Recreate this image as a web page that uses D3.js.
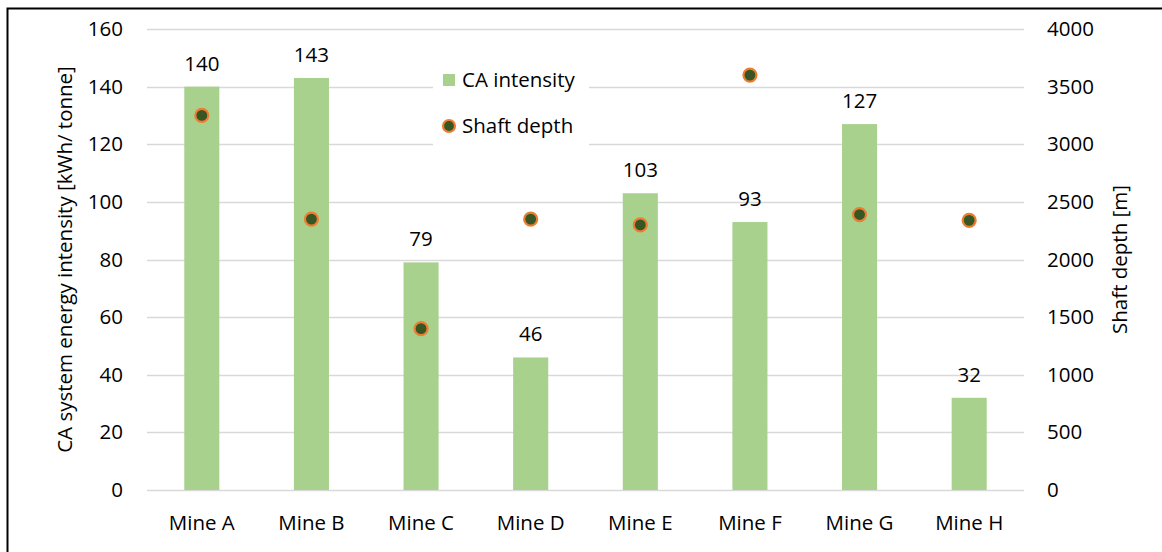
<!DOCTYPE html>
<html>
<head>
<meta charset="utf-8">
<script src="https://cdn.jsdelivr.net/npm/d3@7"></script>
<style>
  html, body { margin: 0; padding: 0; background: #fff; }
  svg { display: block; }
  text { font-family: "Open Sans", "Noto Sans", sans-serif; fill: #000; }
</style>
</head>
<body>
<svg id="chart" width="1162" height="552"></svg>
<script>
// Mines, compressed-air energy intensity and shaft depth
const mines = ["Mine A", "Mine B", "Mine C", "Mine D", "Mine E", "Mine F", "Mine G", "Mine H"];
const caIntensity = [140, 143, 79, 46, 103, 93, 127, 32];
const shaftDepth = [3250, 2350, 1400, 2350, 2300, 3600, 2390, 2340];
const leftTicks = [0, 20, 40, 60, 80, 100, 120, 140, 160];
const rightTicks = [0, 500, 1000, 1500, 2000, 2500, 3000, 3500, 4000];

const FS = 20.5;
const FONT = "Open Sans, sans-serif";

const svg = d3.select("#chart");
const W = 1162, H = 552;
const plot = { left: 147, right: 1024, top: 29, bottom: 490 };

// outer frame
svg.append("path")
  .attr("d", `M7.5,${H} V8.5 H${W}`)
  .attr("fill", "none")
  .attr("stroke", "#000")
  .attr("stroke-width", 2);

const x = d3.scaleBand().domain(mines).range([plot.left, plot.right]).paddingInner(0.68).paddingOuter(0.34);
const yL = d3.scaleLinear().domain([0, 160]).range([plot.bottom, plot.top]);
const yR = d3.scaleLinear().domain([0, 4000]).range([plot.bottom, plot.top]);

// gridlines
svg.append("g").selectAll("line").data(leftTicks).join("line")
  .attr("x1", plot.left).attr("x2", plot.right)
  .attr("y1", d => Math.round(yL(d)) + 0.5).attr("y2", d => Math.round(yL(d)) + 0.5)
  .attr("stroke", "#d9d9d9").attr("stroke-width", 1.3);

// left axis labels
const leftAxis = d3.axisLeft(yL).tickValues(leftTicks).tickSize(0).tickPadding(0);
const gl = svg.append("g").attr("transform", `translate(123,0)`).call(leftAxis);
gl.select(".domain").remove();
gl.selectAll("text").attr("font-size", FS).attr("font-family", FONT).attr("fill", "#000");

// right axis labels
const rightAxis = d3.axisRight(yR).tickValues(rightTicks).tickFormat(d3.format("d")).tickSize(0).tickPadding(0);
const gr = svg.append("g").attr("transform", `translate(1047,0)`).call(rightAxis);
gr.select(".domain").remove();
gr.selectAll("text").attr("font-size", FS).attr("font-family", FONT).attr("fill", "#000");

// category labels
const bottomAxis = d3.axisBottom(x).tickSize(0).tickPadding(0);
const gb = svg.append("g").attr("transform", `translate(0,${plot.bottom})`).call(bottomAxis);
gb.select(".domain").remove();
gb.selectAll("text").attr("y", 40).attr("dy", null)
  .attr("font-size", FS).attr("font-family", FONT).attr("fill", "#000");

// bars
svg.append("g").selectAll("rect").data(mines).join("rect")
  .attr("x", d => x(d))
  .attr("width", x.bandwidth())
  .attr("y", (d, i) => yL(caIntensity[i]))
  .attr("height", (d, i) => yL(0) - yL(caIntensity[i]))
  .attr("fill", "#a9d18e");

// bar value labels
svg.append("g").selectAll("text").data(mines).join("text")
  .attr("x", d => x(d) + x.bandwidth() / 2)
  .attr("y", (d, i) => yL(caIntensity[i]) - 16)
  .attr("text-anchor", "middle")
  .attr("font-size", FS)
  .text((d, i) => caIntensity[i]);

// shaft depth markers
svg.append("g").selectAll("circle").data(mines).join("circle")
  .attr("cx", d => x(d) + x.bandwidth() / 2)
  .attr("cy", (d, i) => yR(shaftDepth[i]))
  .attr("r", 6.5)
  .attr("fill", "#375623")
  .attr("stroke", "#ed7d31")
  .attr("stroke-width", 2.2);

// legend
const lg = svg.append("g");
lg.append("rect").attr("x", 433).attr("y", 60).attr("width", 156).attr("height", 88).attr("fill", "#fff");
lg.append("rect").attr("x", 443).attr("y", 74).attr("width", 12).attr("height", 12).attr("fill", "#a9d18e");
lg.append("text").attr("x", 462).attr("y", 87).attr("font-size", FS).text("CA intensity");
lg.append("circle").attr("cx", 449).attr("cy", 126).attr("r", 6).attr("fill", "#375623")
  .attr("stroke", "#ed7d31").attr("stroke-width", 2.2);
lg.append("text").attr("x", 462).attr("y", 133).attr("font-size", FS).text("Shaft depth");

// axis titles
svg.append("text")
  .attr("transform", `translate(72,${(plot.top + plot.bottom) / 2}) rotate(-90)`)
  .attr("text-anchor", "middle")
  .attr("font-size", FS)
  .text("CA system energy intensity [kWh/ tonne]");
svg.append("text")
  .attr("transform", `translate(1127,${(plot.top + plot.bottom) / 2}) rotate(-90)`)
  .attr("text-anchor", "middle")
  .attr("font-size", FS)
  .text("Shaft depth [m]");
</script>
</body>
</html>
